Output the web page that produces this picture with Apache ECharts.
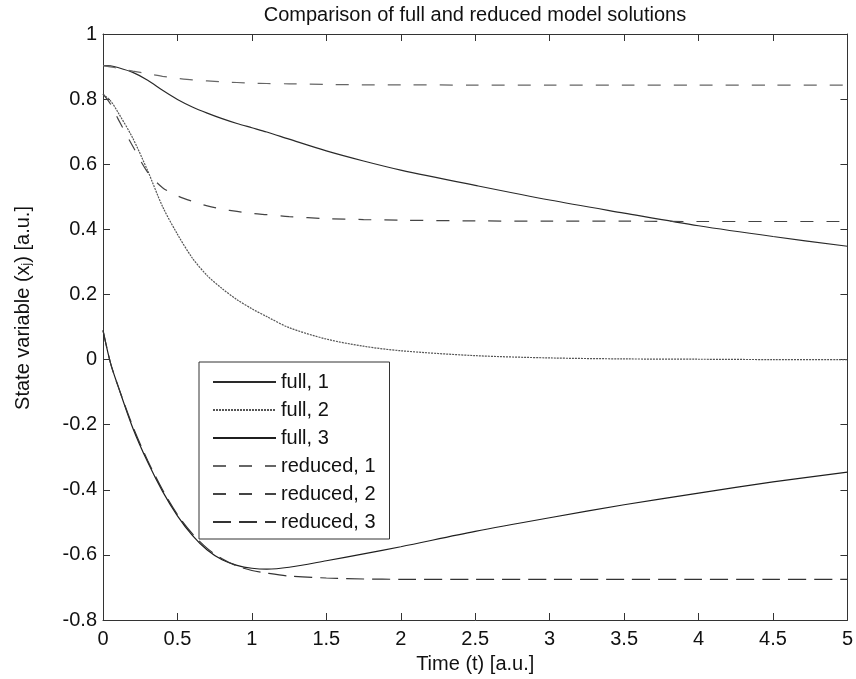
<!DOCTYPE html>
<html>
<head>
<meta charset="utf-8">
<title>Comparison of full and reduced model solutions</title>
<script src="https://cdn.jsdelivr.net/npm/echarts@6/dist/echarts.min.js"></script>
<style>
  html, body { margin: 0; padding: 0; background: #fff; }
  #chart { width: 856px; height: 679px; }
</style>
</head>
<body>
<div id="chart"></div>
<script>
// time grid (t) shared by all curves
const time = [0, 0.05, 0.1, 0.2, 0.3, 0.4, 0.5, 0.6, 0.7, 0.8, 0.9, 1.0, 1.1, 1.25, 1.5, 1.75, 2, 2.5, 3, 3.5, 4, 4.5, 5];

// full model
const full1 = [0.903, 0.902, 0.897, 0.882, 0.858, 0.827, 0.799, 0.776, 0.757, 0.740, 0.725, 0.712, 0.699, 0.677, 0.641, 0.610, 0.582, 0.535, 0.490, 0.450, 0.411, 0.378, 0.348];
const full2 = [0.815, 0.795, 0.760, 0.680, 0.580, 0.470, 0.385, 0.312, 0.258, 0.218, 0.184, 0.156, 0.132, 0.098, 0.063, 0.041, 0.027, 0.012, 0.005, 0.002, 0.001, 0.0, 0.0];
const full3 = [0.090, -0.010, -0.080, -0.210, -0.315, -0.405, -0.480, -0.540, -0.585, -0.615, -0.632, -0.641, -0.644, -0.638, -0.618, -0.597, -0.575, -0.528, -0.486, -0.446, -0.410, -0.376, -0.346];

// reduced model
const reduced1 = [0.903, 0.899, 0.895, 0.886, 0.878, 0.870, 0.864, 0.859, 0.856, 0.853, 0.851, 0.849, 0.848, 0.847, 0.845, 0.844, 0.844, 0.843, 0.843, 0.843, 0.843, 0.843, 0.843];
const reduced2 = [0.815, 0.785, 0.740, 0.655, 0.575, 0.528, 0.503, 0.486, 0.472, 0.462, 0.455, 0.449, 0.445, 0.439, 0.433, 0.430, 0.428, 0.426, 0.425, 0.425, 0.424, 0.424, 0.424];
const reduced3 = [0.090, -0.010, -0.080, -0.205, -0.310, -0.400, -0.476, -0.535, -0.580, -0.612, -0.634, -0.648, -0.656, -0.665, -0.671, -0.674, -0.675, -0.675, -0.675, -0.675, -0.675, -0.675, -0.675];

const seriesNames = ['full, 1', 'full, 2', 'full, 3', 'reduced, 1', 'reduced, 2', 'reduced, 3'];
const seriesValues = [full1, full2, full3, reduced1, reduced2, reduced3];

const FONT = 'Liberation Sans, Arial, Helvetica, sans-serif';
const AXIS_COLOR = '#333';

// line look for each curve
const lineLooks = [
  { color: '#2a2a2a', type: 'solid' },
  { color: '#555555', type: [2, 1] },
  { color: '#1f1f1f', type: 'solid' },
  { color: '#666666', type: [13, 13] },
  { color: '#444444', type: [13, 13] },
  { color: '#333333', type: [18, 8] }
];

const toPairs = (vals) => time.map((t, i) => [t, vals[i]]);

const chart = echarts.init(document.getElementById('chart'));

const boxAxis = (extra) => Object.assign({
  type: 'value',
  axisLine: { show: true, onZero: false, lineStyle: { color: AXIS_COLOR, width: 1 } },
  axisTick: { show: true, inside: true, length: 7, lineStyle: { color: AXIS_COLOR } },
  splitLine: { show: false }
}, extra);

const option = {
  animation: false,
  backgroundColor: '#fff',
  title: {
    text: 'Comparison of full and reduced model solutions',
    left: 475, textAlign: 'center',
    top: 5, padding: 0,
    textStyle: { fontFamily: FONT, fontSize: 20, fontWeight: 'normal', color: '#111' }
  },
  grid: { left: 103, right: 8, top: 34, bottom: 58 },
  legend: {
    orient: 'vertical',
    left: 199, top: 362,
    padding: [10, 14, 7, 13],
    backgroundColor: '#fff',
    borderColor: '#333', borderWidth: 1,
    itemWidth: 63, itemHeight: 14, itemGap: 8,
    itemStyle: { opacity: 0 },
    textStyle: { fontFamily: FONT, fontSize: 20, lineHeight: 20, color: '#111' },
    data: seriesNames
  },
  xAxis: [
    boxAxis({
      min: 0, max: 5, interval: 0.5, position: 'bottom',
      name: 'Time (t) [a.u.]', nameLocation: 'middle', nameGap: 34,
      nameTextStyle: { fontFamily: FONT, fontSize: 20, color: '#111' },
      axisLabel: { fontFamily: FONT, fontSize: 20, color: '#111', margin: 9 }
    }),
    boxAxis({ min: 0, max: 5, interval: 0.5, position: 'top', axisLabel: { show: false } })
  ],
  yAxis: [
    boxAxis({
      min: -0.8, max: 1, interval: 0.2, position: 'left',
      name: 'State variable (x{sub|j}) [a.u.]', nameLocation: 'middle', nameGap: 70,
      nameTextStyle: {
        fontFamily: FONT, fontSize: 20, color: '#111', padding: [0, 0, 0, 38],
        rich: { sub: { fontFamily: FONT, fontSize: 12, color: '#111', verticalAlign: 'bottom', padding: [8, 0, 0, 0] } }
      },
      axisLabel: { fontFamily: FONT, fontSize: 20, color: '#111', margin: 6 }
    }),
    boxAxis({ min: -0.8, max: 1, interval: 0.2, position: 'right', axisLabel: { show: false } })
  ],
  series: seriesNames.map((name, i) => ({
    name: name,
    type: 'line',
    xAxisIndex: 0,
    yAxisIndex: 0,
    data: toPairs(seriesValues[i]),
    smooth: 0.3,
    symbol: 'none',
    itemStyle: { color: lineLooks[i].color },
    lineStyle: { color: lineLooks[i].color, width: 1.2, type: lineLooks[i].type }
  }))
};

chart.setOption(option);
</script>
</body>
</html>
